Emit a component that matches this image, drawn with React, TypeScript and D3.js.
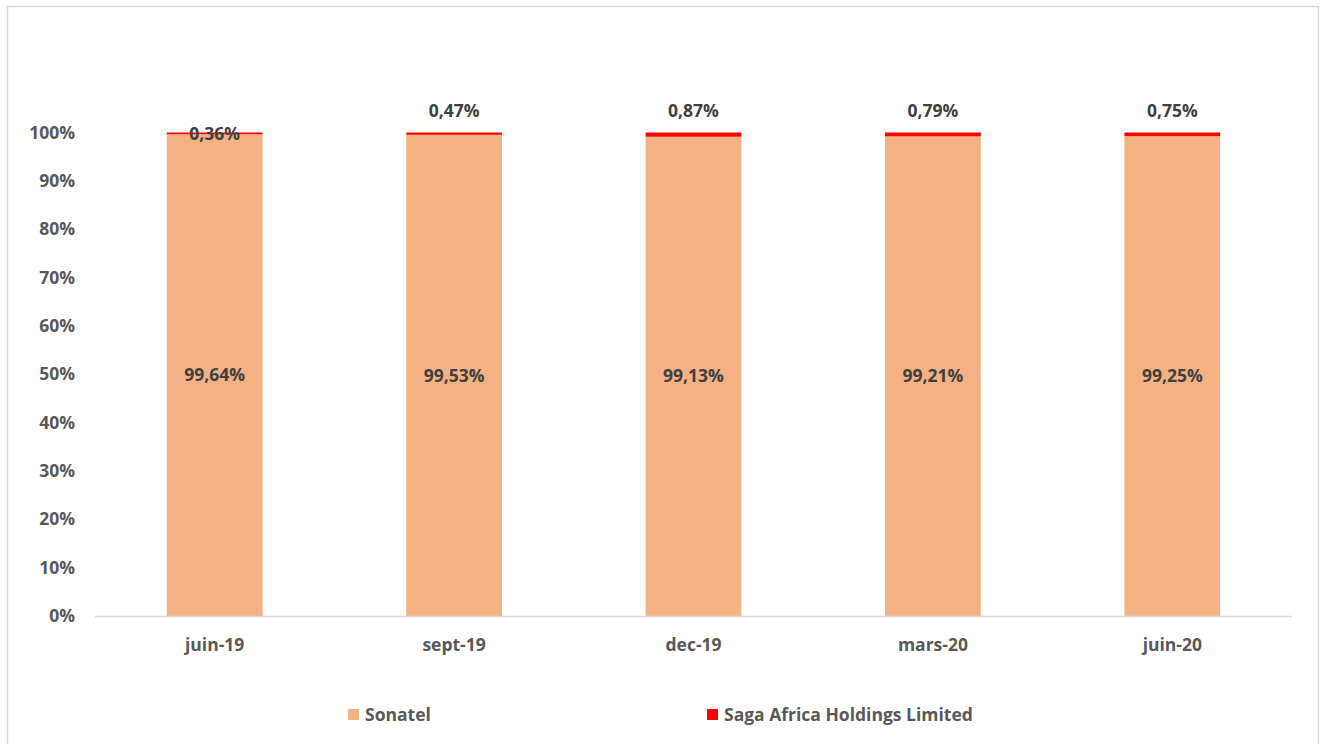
import React from "react";
import * as d3 from "d3";

const categories = ["juin-19", "sept-19", "dec-19", "mars-20", "juin-20"];
const sonatel = [99.64, 99.53, 99.13, 99.21, 99.25];
const saga = [0.36, 0.47, 0.87, 0.79, 0.75];
const sagaLabelPlacement = ["inside", "above", "above", "above", "above"];
const yTicks = [0, 10, 20, 30, 40, 50, 60, 70, 80, 90, 100];
const seriesNames = ["Sonatel", "Saga Africa Holdings Limited"];
const colors = ["#F4B183", "#FF0000"];

const fmt = (v: number) => v.toFixed(2).replace(".", ",") + "%";

export default function App() {
  const W = 1327, H = 744;
  const left = 95, right = 1292, top = 132.5, bottom = 616;
  const x = d3.scaleBand<string>().domain(categories).range([left, right]).paddingInner(0.6).paddingOuter(0.3);
  const y = d3.scaleLinear().domain([0, 100]).range([bottom, top]);
  const font = "'Open Sans', 'Liberation Sans', sans-serif";
  const axisColor = "#595959";
  const labelColor = "#404040";
  const fs = 17.5;

  return (
    <svg width={W} height={H} style={{ position: "absolute", left: 0, top: 0, background: "#fff" }} fontFamily={font}>
      <rect x={7.5} y={6.5} width={1311} height={760} fill="#fff" stroke="#d9d9d9" strokeWidth={1.5} />
      {categories.map((c, i) => {
        const x0 = x(c)!;
        const bw = x.bandwidth();
        const y1 = y(sonatel[i]);
        const y2 = y(sonatel[i] + saga[i]);
        return (
          <g key={c}>
            <rect x={x0} y={y1} width={bw} height={bottom - y1} fill={colors[0]} />
            <rect x={x0} y={y2} width={bw} height={y1 - y2} fill={colors[1]} />
          </g>
        );
      })}
      <line x1={left} x2={right} y1={bottom + 0.5} y2={bottom + 0.5} stroke="#d9d9d9" strokeWidth={1.5} />
      {yTicks.map((t) => (
        <text key={t} x={75} y={y(t)} dy="0.35em" textAnchor="end" fontSize={fs} fontWeight="bold" fill={axisColor}>
          {t}%
        </text>
      ))}
      {categories.map((c) => (
        <text key={c} x={x(c)! + x.bandwidth() / 2} y={645} dy="0.35em" textAnchor="middle" fontSize={fs} fontWeight="bold" fill={axisColor}>
          {c}
        </text>
      ))}
      {categories.map((c, i) => {
        const cx = x(c)! + x.bandwidth() / 2;
        const ySon = (y(0) + y(sonatel[i])) / 2;
        const ySagaMid = (y(sonatel[i]) + y(sonatel[i] + saga[i])) / 2;
        const ySaga = sagaLabelPlacement[i] === "inside" ? ySagaMid + 1 : y(100) - 22;
        return (
          <g key={c + "l"}>
            <text x={cx} y={ySon} dy="0.35em" textAnchor="middle" fontSize={fs} fontWeight="bold" fill={labelColor}>
              {fmt(sonatel[i])}
            </text>
            <text x={cx} y={ySaga} dy="0.35em" textAnchor="middle" fontSize={fs} fontWeight="bold" fill={labelColor}>
              {fmt(saga[i])}
            </text>
          </g>
        );
      })}
      {seriesNames.map((s, i) => {
        const lx = i === 0 ? 348 : 707;
        return (
          <g key={s}>
            <rect x={lx} y={709} width={11} height={11} fill={colors[i]} />
            <text x={lx + 17} y={715} dy="0.35em" fontSize={fs} fontWeight="bold" fill={axisColor}>
              {s}
            </text>
          </g>
        );
      })}
    </svg>
  );
}
